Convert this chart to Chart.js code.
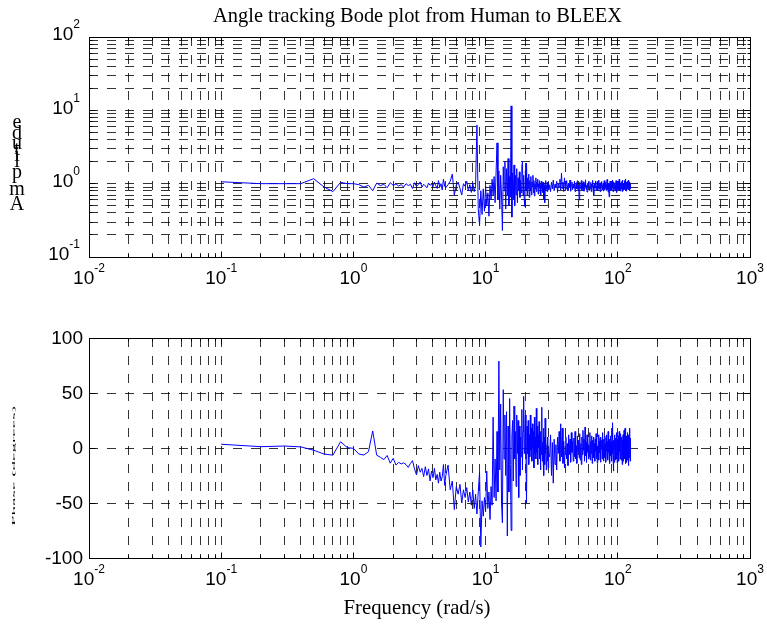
<!DOCTYPE html>
<html>
<head>
<meta charset="utf-8">
<script src="https://cdn.jsdelivr.net/npm/chart.js@4.4.0/dist/chart.umd.min.js"></script>
<style>
  html, body { margin: 0; padding: 0; background: #fff; }
  #wrap { position: relative; width: 767px; height: 625px; }
  canvas { position: absolute; left: 0; }
</style>
</head>
<body>
<div id="wrap">
  <canvas id="magChart" width="767" height="300" style="top:0"></canvas>
  <canvas id="phaseChart" width="767" height="325" style="top:300px"></canvas>
</div>
<script>
// frequency (rad/s)
const freqLow = [0.1,0.2,0.3,0.4,0.5,0.6,0.7,0.8,0.9,1,1.1,1.2,1.3,1.4,1.5,1.6,1.7,1.8,1.9,2,
  2.1,2.2,2.3,2.4,2.5,2.6,2.7,2.8,2.9,3,3.1,3.2,3.3,3.4,3.5,3.6,3.7,3.8,3.9,4,
  4.1,4.2,4.3,4.4,4.5,4.6,4.7,4.8,4.9,5];
const freqMid = [5.2,5.4,5.6,5.8,6,6.2,6.4,6.6,6.8,7,7.2,7.4,7.6,7.8,8,8.2,8.4,8.6,8.8,9,
  9.2,9.4,9.6,9.8,10,10.2,10.4,10.6,10.8,11,11.2,11.4,11.6,11.8,12,12.2,12.4,12.6,12.8,13,
  13.2,13.4,13.6,13.8,14,14.2,14.4,14.6,14.8,15,15.2,15.4,15.6,15.8,16,16.2,16.4,16.6,16.8,17,
  17.2,17.4,17.6,17.8,18,18.2,18.4,18.6,18.8,19,19.2,19.4,19.6,19.8,20,20.2,20.4,20.6,20.8,21,
  21.2,21.4,21.6,21.8,22,22.2,22.4,22.6,22.8,23,23.2,23.4,23.6,23.8,24,24.2,24.4,24.6,24.8,25,
  25.2,25.4,25.6,25.8,26,26.2,26.4,26.6,26.8,27,27.2,27.4,27.6,27.8,28,28.2,28.4,28.6,28.8,29,
  29.2,29.4,29.6,29.8,30];
const freqHigh = [30.5,31,31.5,32,32.5,33,33.5,34,34.5,35,
  35.5,36,36.5,37,37.5,38,38.5,39,39.5,40,
  40.5,41,41.5,42,42.5,43,43.5,44,44.5,45,
  45.5,46,46.5,47,47.5,48,48.5,49,49.5,50,
  50.5,51,51.5,52,52.5,53,53.5,54,54.5,55,
  55.5,56,56.5,57,57.5,58,58.5,59,59.5,60,
  60.5,61,61.5,62,62.5,63,63.5,64,64.5,65,
  65.5,66,66.5,67,67.5,68,68.5,69,69.5,70,
  70.5,71,71.5,72,72.5,73,73.5,74,74.5,75,
  75.5,76,76.5,77,77.5,78,78.5,79,79.5,80,
  80.5,81,81.5,82,82.5,83,83.5,84,84.5,85,
  85.5,86,86.5,87,87.5,88,88.5,89,89.5,90,
  90.5,91,91.5,92,92.5,93,93.5,94,94.5,95,
  95.5,96,96.5,97,97.5,98,98.5,99,99.5,100,
  100.5,101,101.5,102,102.5,103,103.5,104,104.5,105,
  105.5,106,106.5,107,107.5,108,108.5,109,109.5,110,
  110.5,111,111.5,112,112.5,113,113.5,114,114.5,115,
  115.5,116,116.5,117,117.5,118,118.5,119,119.5,120,
  120.5,121,121.5,122,122.5,123,123.5,124,124.5,125];

// amplitude
const magLow = [1.06,1.0,1.0,1.0,1.17,0.9,0.78,1.04,1.0,1.0,
  0.97,0.9,0.95,0.8,1.02,0.94,0.98,0.88,1.03,0.95,
  0.99,0.93,0.97,0.9,1.0,0.94,0.98,0.86,1.03,0.92,
  0.97,1.06,0.9,0.98,0.93,0.88,1.02,0.95,0.99,0.91,
  1.05,0.94,0.86,1.1,0.9,1.0,0.82,1.15,0.93,0.88];
const magMid = [0.97,1.08,1.35,0.70,0.95,1.05,0.86,0.70,1.00,0.92,
  1.08,0.80,0.97,0.76,1.02,0.78,0.95,6.30,0.45,0.27,
  0.80,0.38,0.85,0.42,0.92,0.50,0.75,0.36,0.95,0.60,
  1.15,0.70,1.25,0.55,1.40,3.60,0.60,1.50,0.45,1.30,
  0.70,0.23,1.70,0.80,2.00,0.45,1.60,0.70,2.20,0.50,
  1.25,0.65,11.5,0.35,1.40,0.60,1.80,0.50,1.30,0.70,
  1.60,0.55,1.20,0.80,1.45,0.65,1.10,0.75,1.70,2.00,
  0.70,1.30,0.60,0.49,1.50,0.80,1.90,0.70,1.20,0.85,
  1.35,0.65,1.10,0.80,1.25,0.70,1.05,0.90,1.30,0.75,
  1.10,0.68,1.00,0.85,1.20,0.78,1.05,0.90,1.15,0.72,
  1.00,0.88,1.10,0.80,0.98,0.70,1.08,0.85,1.00,0.76,
  1.05,0.90,0.62,0.95,0.55,1.00,0.80,1.10,0.85,0.95,
  0.78,1.05,0.88,1.00,0.82];
const magHigh = [0.95,0.78,1.05,0.85,1.12,0.80,0.98,0.88,1.08,0.76,
  1.00,0.90,1.15,0.82,1.40,0.86,1.05,0.78,1.20,0.90,
  0.84,1.10,0.95,0.80,1.02,0.88,1.12,0.79,0.97,1.05,
  0.83,0.99,0.87,1.08,0.78,0.95,1.03,0.85,1.10,0.82,
  0.96,0.60,1.04,0.86,0.92,1.10,0.80,0.98,0.88,1.06,
  0.79,1.00,0.90,1.13,0.84,0.95,0.77,1.02,0.89,0.97,
  1.08,0.81,0.93,0.86,1.04,0.78,0.99,0.90,1.11,0.83,
  0.94,0.70,1.02,0.87,0.96,1.09,0.82,0.92,0.88,1.05,
  0.80,0.97,0.91,1.12,0.85,0.99,0.78,1.03,0.89,0.95,
  1.07,0.82,0.94,0.87,1.01,0.79,0.96,1.10,0.84,0.92,
  0.88,1.04,0.81,0.97,0.90,1.14,0.83,0.95,0.77,1.02,
  0.89,0.66,1.00,0.86,1.08,0.80,0.93,0.88,1.05,0.82,
  0.97,0.90,1.12,0.78,0.99,0.87,1.06,0.84,0.94,1.01,
  0.80,0.96,0.89,1.10,0.83,0.98,0.76,1.04,0.91,0.95,
  1.08,0.82,0.97,0.88,1.15,0.80,0.93,0.86,1.03,0.79,
  0.96,0.90,1.07,0.84,0.99,0.78,1.12,0.87,0.94,1.02,
  0.81,0.97,0.89,1.10,0.83,1.00,0.86,1.16,0.80,0.95,
  0.88,1.05,0.79,0.98,0.91,1.09,0.84,0.96,0.87,1.03,
  0.82,1.12,0.90,0.97,0.80,1.06,0.88,0.99,0.85,0.93];

// phase (degrees)
const phaseLow = [3.4,1.2,1.8,1.0,-2.0,-5.5,-6.5,5.7,0.3,-0.3,
  -5.5,-6.4,-3.3,15.5,-6.5,-8.5,-10.5,-6.8,-13.8,-9.4,
  -15.5,-13.0,-14.5,-13.5,-15.0,-17.6,-14.0,-11.5,-19.0,-24.5,
  -16.0,-22.0,-18.5,-26.0,-17.0,-25.0,-19.0,-30.0,-21.0,-27.0,
  -18.5,-29.0,-24.0,-32.0,-22.0,-30.0,-26.0,-15.0,-34.0,-25.0];
const phaseMid = [-15.5,-38,-30,-56,-35,-42,-33,-50,-38,-45,
  -36,-49,-40,-52,-38,-55,-42,-60,-40,-21.5,
  -90,-48,-62,-45,-58,-21,-55,-40,-65,-35,
  -52,28,-45,-10,-48,15,-40,79,-20,40,
  -50,-68,53,-10,30,-25,33,-80,20,-40,
  45,-15,-75,10,25,-30,38,-10,15,-35,
  30,-5,25,-45,20,-25,10,-8,35,-20,
  15,47,-5,10,30,-10,-50,20,-5,25,
  -15,12,-8,30,-2,18,-12,22,0,15,
  -18,28,-5,10,-10,36,-4,20,-15,12,
  0,24,-10,8,-20,15,-6,37,-12,5,
  -8,18,-25,10,-15,27,-5,8,-20,-12,
  3,-12,10,-18,-5];
const phaseHigh = [-8,12,-25,5,-32,8,-15,3,-20,10,
  -5,15,-12,22,-8,18,-14,6,-18,2,
  10,-10,4,-16,12,-6,8,-13,14,-4,
  6,-12,9,-8,15,-10,2,-14,11,-3,
  7,-9,13,-11,4,-15,10,-6,16,-2,
  8,-12,19,-7,5,-13,12,-4,9,-10,
  3,-8,14,-11,6,-5,11,-14,7,-2,
  10,-9,4,-12,8,-3,13,-10,5,-14,
  2,-7,12,-11,6,-4,9,-13,10,-1,
  7,-10,14,-6,3,-12,8,-5,11,-9,
  4,-13,9,-3,12,-8,6,-11,15,-4,
  2,-10,8,-14,5,-7,11,-3,6,-12,
  10,-5,23,-9,4,-21,7,-13,12,-2,
  5,-11,9,-6,14,-10,3,-14,8,-4,
  11,-8,6,-12,15,-3,9,-10,4,-7,
  13,-11,5,-4,10,-15,7,-6,12,-9,
  3,-12,16,-5,8,-10,18,-7,4,-14,
  9,-3,11,-13,6,-8,14,-11,5,-16,
  10,-6,12,-9,18,-4,7,-12,9,-3];

// axes
const xDecades = [0.01, 0.1, 1, 10, 100, 1000];
const xTickExp = ['-2', '-1', '0', '1', '2', '3'];
const magDecades = [0.1, 1, 10, 100];
const magTickExp = ['-1', '0', '1', '2'];
const phaseTicks = [-100, -50, 0, 50, 100];
const phaseTickLabels = ['-100', '-50', '0', '50', '100'];

const title = 'Angle tracking Bode plot from Human to BLEEX';
const xLabel = 'Frequency (rad/s)';
const magLabel = 'Amplitude';
const phaseLabel = 'Phase (degrees)';

const freq = freqLow.concat(freqMid, freqHigh);
const magnitude = magLow.concat(magMid, magHigh);
const phase = phaseLow.concat(phaseMid, phaseHigh);

const SANS = '"Liberation Sans", Arial, sans-serif';
const SERIF = '"Liberation Serif", "Times New Roman", serif';
const gridColor = 'rgba(0,0,0,0.8)';

// major + minor (2..9) ticks of a log axis
function logTicks(decs) {
  const out = [];
  decs.forEach((d, i) => {
    out.push({ value: d, major: true });
    if (i < decs.length - 1) {
      for (let m = 2; m <= 9; m++) out.push({ value: +(d * m).toPrecision(6), major: false });
    }
  });
  return out;
}

function align(p) { return Math.round(p - 0.5) + 0.5; }

function fitFont(ctx, text, family, target) {
  ctx.font = '20px ' + family;
  const w = ctx.measureText(text).width;
  return (20 * target / w).toFixed(2) + 'px ' + family;
}

// "10" with a raised exponent
function drawPow(ctx, exp, x, y, mode) {
  ctx.font = '19px ' + SANS;
  const wb = ctx.measureText('10').width;
  ctx.font = '12px ' + SANS;
  const we = ctx.measureText(exp).width;
  const left = mode === 'center' ? x - (wb + we) / 2 : x - (wb + we);
  ctx.textAlign = 'left';
  ctx.textBaseline = 'middle';
  ctx.font = '19px ' + SANS;
  ctx.fillText('10', left, y);
  ctx.font = '12px ' + SANS;
  ctx.fillText(exp, left + wb, y - 10);
}

function drawBoxAndTicks(chart) {
  const ctx = chart.ctx, a = chart.chartArea;
  const l = align(a.left), r = align(a.right), t = align(a.top), b = align(a.bottom);
  ctx.save();
  ctx.setLineDash([]);
  ctx.strokeStyle = '#000';
  ctx.lineWidth = 1;
  ctx.strokeRect(l, t, r - l, b - t);
  ctx.beginPath();
  chart.scales.x.ticks.forEach(tk => {
    const p = align(chart.scales.x.getPixelForValue(tk.value));
    const len = tk.major === false ? 3 : 6;
    ctx.moveTo(p, b); ctx.lineTo(p, b - len);
    ctx.moveTo(p, t); ctx.lineTo(p, t + len);
  });
  chart.scales.y.ticks.forEach(tk => {
    const p = align(chart.scales.y.getPixelForValue(tk.value));
    const len = tk.major === false ? 3 : 6;
    ctx.moveTo(l, p); ctx.lineTo(l + len, p);
    ctx.moveTo(r, p); ctx.lineTo(r - len, p);
  });
  ctx.stroke();
  ctx.restore();
}

const magFrame = {
  id: 'magFrame',
  afterDraw(chart) {
    drawBoxAndTicks(chart);
    const ctx = chart.ctx, a = chart.chartArea;
    ctx.save();
    ctx.fillStyle = '#000';
    xDecades.forEach((v, i) => drawPow(ctx, xTickExp[i], chart.scales.x.getPixelForValue(v), a.bottom + 22, 'center'));
    magDecades.forEach((v, i) => drawPow(ctx, magTickExp[i], a.left - 9, chart.scales.y.getPixelForValue(v) - 2, 'right'));
    // title
    ctx.font = fitFont(ctx, title, SERIF, 409);
    ctx.textAlign = 'center';
    ctx.textBaseline = 'middle';
    ctx.fillText(title, 417.5, 17);
    // y label, letters stacked upright as in the source figure
    ctx.font = '20px ' + SERIF;
    ctx.textBaseline = 'alphabetic';
    let y = 210;
    for (const ch of magLabel) {
      ctx.fillText(ch, 17, y);
      y -= ctx.measureText(ch).width * 1.07;
    }
    ctx.restore();
  }
};

const phaseFrame = {
  id: 'phaseFrame',
  afterDraw(chart) {
    drawBoxAndTicks(chart);
    const ctx = chart.ctx, a = chart.chartArea;
    ctx.save();
    ctx.fillStyle = '#000';
    xDecades.forEach((v, i) => drawPow(ctx, xTickExp[i], chart.scales.x.getPixelForValue(v), a.bottom + 22, 'center'));
    ctx.font = '19px ' + SANS;
    ctx.textAlign = 'right';
    ctx.textBaseline = 'middle';
    phaseTicks.forEach((v, i) => ctx.fillText(phaseTickLabels[i], a.left - 6, chart.scales.y.getPixelForValue(v) + 1));
    // x label
    ctx.font = fitFont(ctx, xLabel, SERIF, 147);
    ctx.textAlign = 'center';
    ctx.fillText(xLabel, 417, 309);
    // y label, squashed almost flat as in the source figure
    ctx.font = '20px ' + SERIF;
    const w = ctx.measureText(phaseLabel).width;
    ctx.translate(14, 166);
    ctx.rotate(-Math.PI / 2);
    ctx.scale(120 / w, 0.22);
    ctx.fillText(phaseLabel, 0, 0);
    ctx.restore();
  }
};

function xAxis(height) {
  return {
    type: 'logarithmic', min: 0.01, max: 1000,
    afterBuildTicks: s => { s.ticks = logTicks(xDecades); },
    afterFit: s => { s.height = height; },
    ticks: { display: false },
    grid: { color: gridColor, lineWidth: 1, drawTicks: false },
    border: { display: false, dash: [9, 9] }
  };
}

function baseOptions(top, xHeight, yAxis) {
  return {
    responsive: false,
    animation: false,
    events: [],
    layout: { padding: { left: 0, right: 17, top: top, bottom: 0 } },
    scales: { x: xAxis(xHeight), y: yAxis },
    plugins: { legend: { display: false }, tooltip: { enabled: false }, title: { display: false } }
  };
}

const lineStyle = { borderColor: '#0000ff', borderWidth: 1, pointRadius: 0, tension: 0, fill: false };

new Chart(document.getElementById('magChart'), {
  type: 'line',
  data: { datasets: [Object.assign({ data: freq.map((f, i) => ({ x: f, y: magnitude[i] })) }, lineStyle)] },
  options: baseOptions(37, 43, {
    type: 'logarithmic', min: 0.1, max: 100,
    afterBuildTicks: s => { s.ticks = logTicks(magDecades); },
    afterFit: s => { s.width = 89; },
    ticks: { display: false },
    grid: { color: gridColor, lineWidth: 1, drawTicks: false },
    border: { display: false, dash: [9, 9] }
  }),
  plugins: [magFrame]
});

new Chart(document.getElementById('phaseChart'), {
  type: 'line',
  data: { datasets: [Object.assign({ data: freq.map((f, i) => ({ x: f, y: phase[i] })) }, lineStyle)] },
  options: baseOptions(38, 67, {
    type: 'linear', min: -100, max: 100,
    afterBuildTicks: s => { s.ticks = phaseTicks.map(v => ({ value: v, major: true })); },
    afterFit: s => { s.width = 89; },
    ticks: { display: false },
    grid: { color: gridColor, lineWidth: 1, drawTicks: false },
    border: { display: false, dash: [9, 9] }
  }),
  plugins: [phaseFrame]
});
</script>
</body>
</html>
